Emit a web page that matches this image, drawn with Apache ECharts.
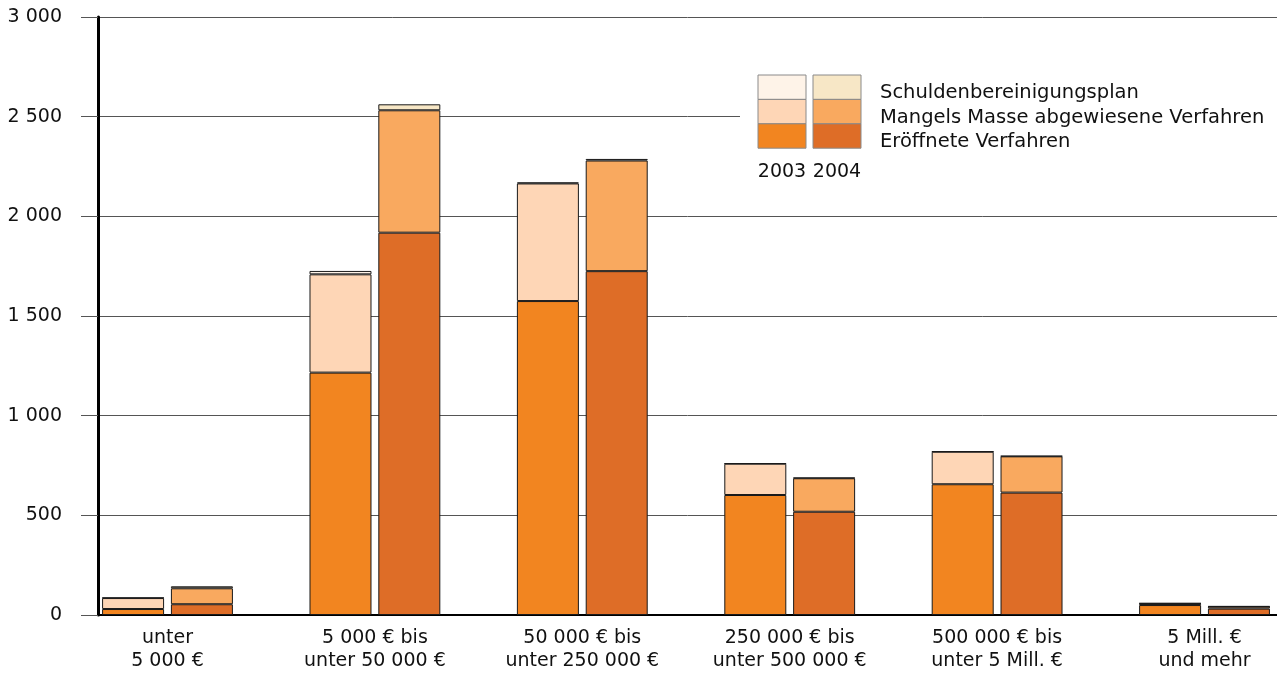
<!DOCTYPE html>
<html>
<head>
<meta charset="utf-8">
<title>Insolvenzverfahren nach Forderungshöhe</title>
<script src="https://cdn.jsdelivr.net/npm/echarts@6/dist/echarts.min.js"></script>
<style>
  html, body { margin: 0; padding: 0; background: #fff; }
  #chart { width: 1277px; height: 675px; }
</style>
</head>
<body>
<div id="chart"></div>
<script>
// Forderungsklassen (x axis)
const categories = [
  'unter\n5 000 €',
  '5 000 € bis\nunter 50 000 €',
  '50 000 € bis\nunter 250 000 €',
  '250 000 € bis\nunter 500 000 €',
  '500 000 € bis\nunter 5 Mill. €',
  '5 Mill. €\nund mehr'
];

// 2003
const eroeffnet2003 = [30, 1216, 1575, 602, 656, 50];
const mangels2003   = [55, 493, 590, 157, 163, 8];
const schulden2003  = [2, 17, 5, 2, 2, 1];

// 2004
const eroeffnet2004 = [54, 1918, 1725, 518, 614, 32];
const mangels2004   = [80, 614, 555, 168, 182, 10];
const schulden2004  = [10, 30, 8, 3, 2, 2];

// y axis ticks
const yTicks = [0, 500, 1000, 1500, 2000, 2500, 3000];

const years = ['2003', '2004'];
const legendLabels = [
  'Schuldenbereinigungsplan',
  'Mangels Masse abgewiesene Verfahren',
  'Eröffnete Verfahren'
];

const colors = {
  '2003': { eroeffnet: '#F28520', mangels: '#FED6B6', schulden: '#FEF3E8' },
  '2004': { eroeffnet: '#DE6D27', mangels: '#F9A95F', schulden: '#F7E7C6' }
};

const FONT = 'DejaVu Sans';

function fmtThousands(v) {
  if (v >= 1000) {
    return Math.floor(v / 1000) + ' ' + String(v % 1000).padStart(3, '0');
  }
  return String(v);
}

// rows as [value, classIndex]; the value column comes first so it is the stacked one
function toRows(arr) {
  return arr.map((v, i) => [v, i]);
}

function barSeries(name, stack, data, color) {
  return {
    name: name,
    type: 'bar',
    stack: stack,
    data: toRows(data),
    encode: { x: 1, y: 0 },
    barWidth: 62,
    barGap: '11%',
    itemStyle: { color: color, borderColor: '#1a1a1a', borderWidth: 1 },
    emphasis: { disabled: true },
    silent: true,
    animation: false
  };
}

const series = [
  barSeries('Eröffnete Verfahren 2003', 's2003', eroeffnet2003, colors['2003'].eroeffnet),
  barSeries('Mangels Masse 2003', 's2003', mangels2003, colors['2003'].mangels),
  barSeries('Schuldenbereinigungsplan 2003', 's2003', schulden2003, colors['2003'].schulden),
  barSeries('Eröffnete Verfahren 2004', 's2004', eroeffnet2004, colors['2004'].eroeffnet),
  barSeries('Mangels Masse 2004', 's2004', mangels2004, colors['2004'].mangels),
  barSeries('Schuldenbereinigungsplan 2004', 's2004', schulden2004, colors['2004'].schulden)
];

// Legend block: two swatch columns (2003, 2004), three rows, labels on the right
const legendX = 758, legendY = 75, swW = 48, swH = 24.4, colGap = 7;
const rowKeys = ['schulden', 'mangels', 'eroeffnet'];
const graphics = [
  { type: 'rect', shape: { x: 740, y: 62, width: 537, height: 125 }, style: { fill: '#fff' }, z: 5, silent: true }
];
years.forEach((yr, c) => {
  const x = legendX + c * (swW + colGap);
  rowKeys.forEach((k, r) => {
    graphics.push({
      type: 'rect',
      shape: { x: x, y: legendY + r * swH, width: swW, height: swH },
      style: { fill: colors[yr][k], stroke: '#8a8a8a', lineWidth: 1 },
      z: 6, silent: true
    });
  });
  graphics.push({
    type: 'text',
    x: x + swW / 2, y: 172,
    style: { text: yr, font: '19px "' + FONT + '"', fill: '#111', align: 'center', verticalAlign: 'middle' },
    z: 6, silent: true
  });
});
legendLabels.forEach((t, r) => {
  graphics.push({
    type: 'text',
    x: 880, y: legendY + r * swH + swH / 2 + 6,
    style: { text: t, font: '19.5px "' + FONT + '"', fill: '#111', align: 'left', verticalAlign: 'middle' },
    z: 6, silent: true
  });
});

const chart = echarts.init(document.getElementById('chart'), null, { renderer: 'canvas' });
chart.setOption({
  animation: false,
  backgroundColor: '#fff',
  textStyle: { fontFamily: FONT },
  grid: { left: 98, right: 0, top: 17, bottom: 60, containLabel: false },
  xAxis: {
    type: 'value',
    min: -0.3351,
    max: 5.3495,
    splitLine: { show: false },
    axisTick: { show: false },
    axisLine: { show: true, onZero: false, lineStyle: { color: '#000', width: 2 } },
    axisLabel: {
      customValues: categories.map((c, i) => i),
      formatter: (v) => categories[Math.round(v)] || '',
      fontFamily: FONT,
      fontSize: 19,
      lineHeight: 23,
      color: '#111',
      margin: 12,
      align: 'center'
    }
  },
  yAxis: {
    type: 'value',
    min: 0,
    max: 3000,
    interval: 500,
    axisLine: { show: true, onZero: false, lineStyle: { color: '#000', width: 3 } },
    axisTick: { show: true, length: 17, lineStyle: { color: '#555', width: 1 } },
    splitLine: { show: true, lineStyle: { color: '#555', width: 1 } },
    axisLabel: {
      customValues: yTicks,
      formatter: (v) => fmtThousands(v),
      fontFamily: FONT,
      fontSize: 19,
      color: '#111',
      margin: 36
    }
  },
  series: series,
  graphic: graphics
});
</script>
</body>
</html>
